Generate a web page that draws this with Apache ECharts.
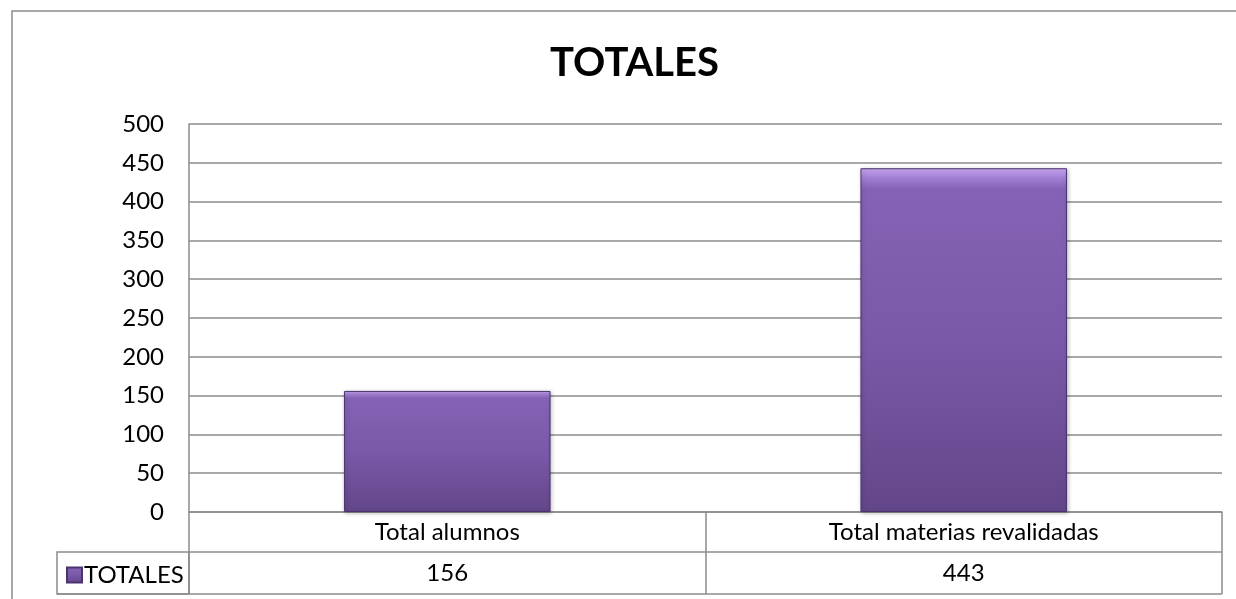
<!DOCTYPE html>
<html>
<head>
<meta charset="utf-8">
<script src="https://cdn.jsdelivr.net/npm/echarts@6/dist/echarts.min.js"></script>
<style>
  html, body { margin: 0; padding: 0; background: #fff; }
  #chart { width: 1236px; height: 599px; }
</style>
</head>
<body>
<div id="chart"></div>
<script>
// datos
const categories = ['Total alumnos', 'Total materias revalidadas'];
const totales = [156, 443];
const seriesName = 'TOTALES';

const font = 'Lato, "Open Sans", sans-serif';
const lineColor = '#8c8c8c';

const chart = echarts.init(document.getElementById('chart'));

const option = {
  animation: false,
  title: {
    text: 'TOTALES',
    left: 545,
    top: 38,
    textStyle: { fontFamily: font, fontSize: 40, fontWeight: 'bold', color: '#000' }
  },
  legend: {
    data: [seriesName],
    left: 61,
    top: 558,
    icon: 'rect',
    itemWidth: 15,
    itemHeight: 15,
    itemGap: 4,
    textStyle: { fontFamily: font, fontSize: 24, color: '#000', padding: [0, 0, 0, -3] }
  },
  grid: { left: 189, right: 14, top: 124, bottom: 87, containLabel: false },
  xAxis: [
    {
      type: 'category',
      data: categories,
      axisLine: { show: true, lineStyle: { color: lineColor, width: 1.5 } },
      axisTick: { show: true, length: 82, lineStyle: { color: lineColor, width: 1.5 } },
      axisLabel: { fontFamily: font, fontSize: 24, color: '#000', margin: 8 }
    },
    {
      type: 'category',
      position: 'bottom',
      offset: 41,
      data: totales.map(String),
      axisLine: { show: false },
      axisTick: { show: false },
      axisLabel: { fontFamily: font, fontSize: 24, color: '#000', margin: 8 }
    }
  ],
  yAxis: {
    type: 'value',
    min: 0,
    max: 500,
    interval: 50,
    axisLine: { show: true, lineStyle: { color: lineColor, width: 1.5 } },
    axisTick: { show: false },
    axisLabel: { fontFamily: font, fontSize: 24, color: '#000', margin: 25 },
    splitLine: { show: true, lineStyle: { color: lineColor, width: 1.5 } }
  },
  series: [
    {
      name: seriesName,
      type: 'bar',
      xAxisIndex: 0,
      data: totales,
      barWidth: '40%',
      itemStyle: {
        color: new echarts.graphic.LinearGradient(0, 0, 0, 1, [
          { offset: 0, color: '#cfaaf5' },
          { offset: 0.025, color: '#a482d6' },
          { offset: 0.06, color: '#8562b5' },
          { offset: 0.5, color: '#7a59a9' },
          { offset: 1, color: '#634689' }
        ]),
        borderColor: '#4a3470',
        borderWidth: 1,
        shadowColor: 'rgba(0,0,0,0.25)',
        shadowBlur: 4,
        shadowOffsetX: 1,
        shadowOffsetY: 1
      }
    }
  ],
  graphic: [
    // borde exterior
    { type: 'rect', shape: { x: 12, y: 11, width: 1240, height: 600 },
      style: { fill: 'none', stroke: lineColor, lineWidth: 1.5 }, silent: true },
    // tabla de datos
    { type: 'line', shape: { x1: 189, y1: 552, x2: 1222, y2: 552 },
      style: { stroke: lineColor, lineWidth: 1.5 }, silent: true },
    { type: 'line', shape: { x1: 57, y1: 594, x2: 1222, y2: 594 },
      style: { stroke: lineColor, lineWidth: 1.5 }, silent: true },
    { type: 'rect', shape: { x: 57, y: 552, width: 132, height: 42 },
      style: { fill: 'none', stroke: lineColor, lineWidth: 1.5 }, silent: true }
  ]
};

chart.setOption(option);
</script>
</body>
</html>
